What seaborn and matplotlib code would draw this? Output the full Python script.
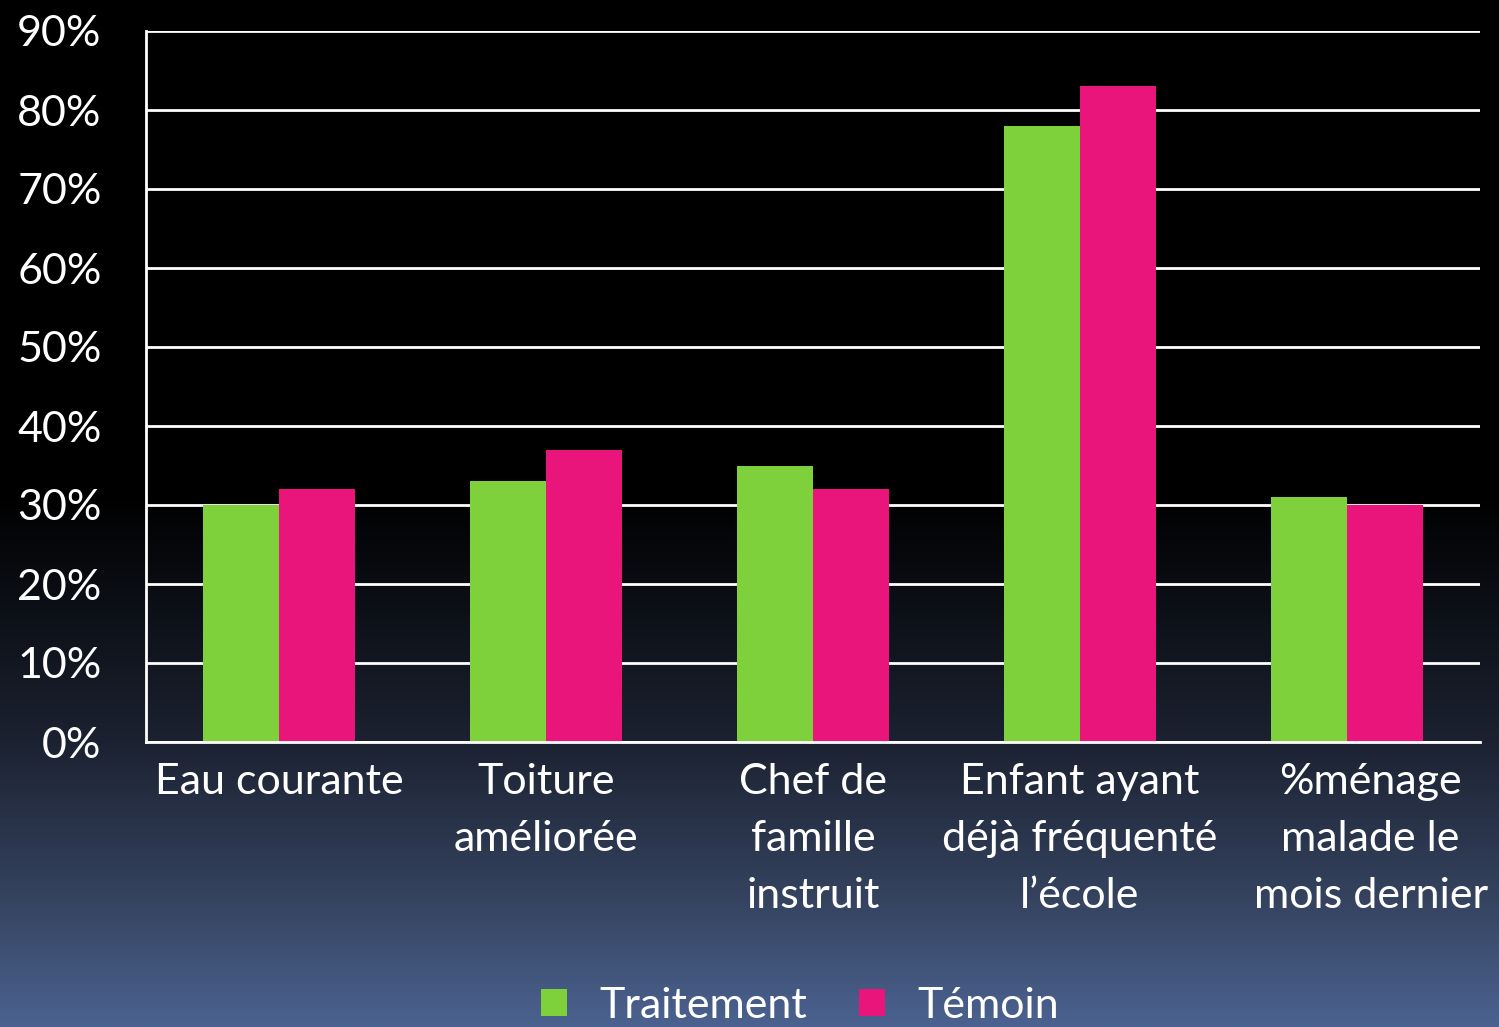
import numpy as np
import pandas as pd
import matplotlib
matplotlib.use("Agg")
import matplotlib.pyplot as plt
import matplotlib.transforms as mtransforms
from matplotlib.colors import LinearSegmentedColormap
from matplotlib.patches import Patch
import seaborn as sns

categories = ["Eau courante", "Toiture\naméliorée", "Chef de\nfamille\ninstruit",
              "Enfant ayant\ndéjà fréquenté\nl’école", "%ménage\nmalade le\nmois dernier"]
traitement = [30, 33, 35, 78, 31]
temoin = [32, 37, 32, 83, 30]
series_names = ["Traitement", "Témoin"]
yticks = [0, 10, 20, 30, 40, 50, 60, 70, 80, 90]
ytick_labels = [f"{v}%" for v in yticks]

df = pd.DataFrame({
    "cat": categories * 2,
    "val": traitement + temoin,
    "serie": [series_names[0]] * 5 + [series_names[1]] * 5,
})

sns.set_theme(style="dark")
plt.rcParams["font.family"] = ["Lato", "DejaVu Sans"]

W, H = 1499, 1027
fig = plt.figure(figsize=(W / 100, H / 100), dpi=100)

# gradient background
bg = fig.add_axes([0, 0, 1, 1], zorder=-10)
cmap = LinearSegmentedColormap.from_list("bg", [
    (0.0, "#000000"), (0.48, "#000000"), (0.72, "#1b2130"),
    (0.876, "#35435f"), (1.0, "#4b6290")])
grad = np.linspace(0, 1, 512).reshape(-1, 1)
bg.imshow(grad, aspect="auto", cmap=cmap, extent=[0, 1, 0, 1], origin="upper")
bg.set_axis_off()

ax = fig.add_axes([146 / W, 1 - 742 / H, (1480 - 146) / W, (742 - 31) / H])
ax.patch.set_alpha(0)
sns.barplot(data=df, x="cat", y="val", hue="serie", ax=ax,
            palette=["#7fd13b", "#ea157a"], width=0.57, saturation=1,
            legend=False, zorder=3, linewidth=0, edgecolor="none")
ax.set_ylim(0, 90)
ax.set_xlim(-0.5, 4.5)
ax.set_yticks(yticks)
ax.set_yticklabels(ytick_labels)
ax.set_xlabel("")
ax.set_ylabel("")
ax.grid(False)
for v in yticks:
    ax.axhline(v, color="white", lw=2, zorder=1)
for s in ["top", "right"]:
    ax.spines[s].set_visible(False)
for s in ["left", "bottom"]:
    ax.spines[s].set_visible(True)
    ax.spines[s].set_color("white")
    ax.spines[s].set_linewidth(2)
    ax.spines[s].set_zorder(4)
ax.tick_params(axis="y", length=0, pad=32, labelsize=31, colors="white")
ax.tick_params(axis="x", length=0, pad=15, labelsize=31, colors="white")
xt = ax.get_xticklabels()
for t in xt:
    t.set_linespacing(1.62)
    t.set_ha("center")
# last label is shifted right in the reference
xt[-1].set_transform(xt[-1].get_transform() +
                     mtransforms.ScaledTranslation(24 / 100, 0, fig.dpi_scale_trans))

handles = [Patch(facecolor="#7fd13b", edgecolor="none"),
           Patch(facecolor="#ea157a", edgecolor="none")]
leg = fig.legend(handles, series_names, loc="center", bbox_to_anchor=(800 / W, 1 - 1006 / H),
                 ncol=2, frameon=False, fontsize=31, labelcolor="white",
                 handlelength=0.6, handleheight=0.6, handletextpad=0.75, columnspacing=1.2)

fig.savefig("out.png", dpi=100, facecolor="black")
